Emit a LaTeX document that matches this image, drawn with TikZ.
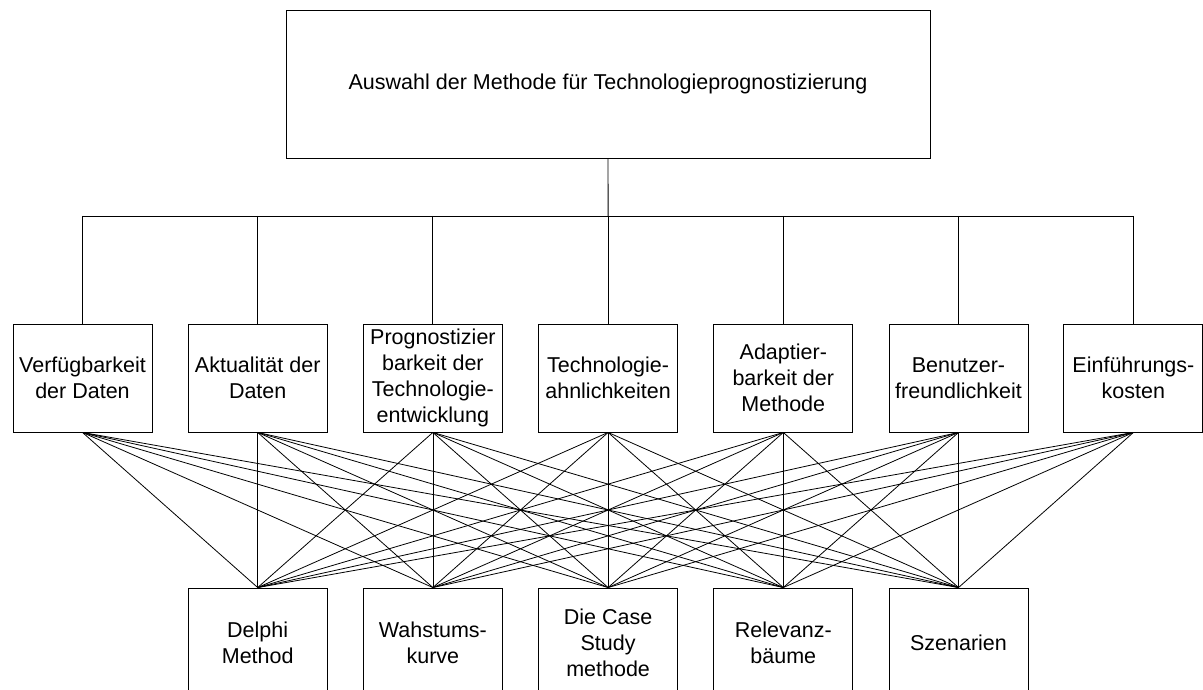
\documentclass[tikz,border=0pt]{standalone}
\usepackage{fontspec}
\setmainfont{Liberation Sans}
\begin{document}
\begin{tikzpicture}[x=1pt,y=-1pt,line width=0.9pt,
  box/.style={draw, inner sep=0pt, align=center, font=\fontsize{21.5}{25.8}\selectfont, minimum width=139pt},
  crit/.style={box, minimum height=108pt},
  meth/.style={box, minimum height=110pt},
  link/.style={line width=0.8pt}]
\useasboundingbox (0,0) rectangle (1203,690);
\clip (0,0) rectangle (1203,690);
\node[box, minimum width=644pt, minimum height=148pt] (top) at (608,84) {Auswahl der Methode für Technologieprognostizierung};
\node[crit] (c1) at (82.5,378)  {Verfügbarkeit\\der Daten};
\node[crit] (c2) at (257.7,378) {Aktualität der\\Daten};
\node[crit] (c3) at (432.9,378) {Prognostizier\\barkeit der\\Technologie-\\entwicklung};
\node[crit] (c4) at (608.1,378) {Technologie-\\ahnlichkeiten};
\node[crit] (c5) at (783.3,378) {Adaptier-\\barkeit der\\Methode};
\node[crit] (c6) at (958.5,378) {Benutzer-\\freundlichkeit};
\node[crit] (c7) at (1133.4,378) {Einführungs-\\kosten};
\node[meth] (m1) at (257.7,643) {Delphi\\Method};
\node[meth] (m2) at (432.9,643) {Wahstums-\\kurve};
\node[meth] (m3) at (608.1,643) {Die Case\\Study\\methode};
\node[meth] (m4) at (783.3,643) {Relevanz-\\bäume};
\node[meth] (m5) at (958.5,643) {Szenarien};
\coordinate (j) at (608.1,216);
\draw (top.south) -- (j);
\draw (c1.north |- j) -- (c7.north |- j);
\foreach \i in {1,...,7} \draw (c\i.north |- j) -- (c\i.north);
\foreach \i in {1,...,7} \foreach \k in {1,...,5} \draw[link] (c\i.south) -- (m\k.north);
\end{tikzpicture}
\end{document}
